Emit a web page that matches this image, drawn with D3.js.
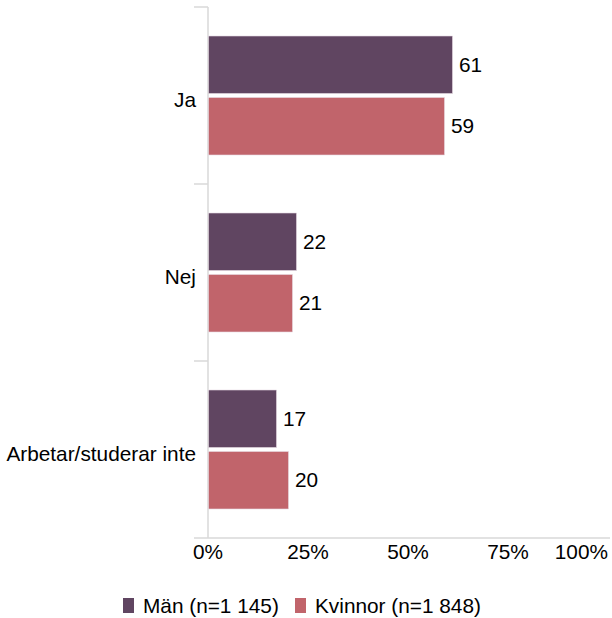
<!DOCTYPE html>
<html><head><meta charset="utf-8">
<script src="https://cdn.jsdelivr.net/npm/d3@7"></script>
<style>body{margin:0;background:#fff}text{font-family:"Liberation Sans",Arial,sans-serif;fill:#000}</style>
</head><body>
<svg id="c" width="612" height="618"></svg>
<script>
const categories = ["Ja", "Nej", "Arbetar/studerar inte"];
const seriesNames = ["Män (n=1 145)", "Kvinnor (n=1 848)"];
const manValues = [61, 22, 17];
const kvinnorValues = [59, 21, 20];
const xTicks = [0, 25, 50, 75, 100];
const xTickLabels = ["0%", "25%", "50%", "75%", "100%"];
const colors = ["#604561", "#c1646b"];

const svg = d3.select("#c");
const x = d3.scaleLinear().domain([0, 100]).range([208, 608]);
const y = d3.scaleBand().domain(categories).range([7, 538]);
const y1 = d3.scaleBand().domain(seriesNames).range([29, 148]).paddingInner(0.065);
const values = [manValues, kvinnorValues];
const fs = 20.8;

// axes lines
const axisColor = "#d9d9d9";
svg.append("line").attr("x1", 208).attr("x2", 208).attr("y1", y.range()[0]).attr("y2", y.range()[1]).attr("stroke", axisColor).attr("stroke-width", 1.5);
svg.append("line").attr("x1", 208).attr("x2", 610).attr("y1", 538).attr("y2", 538).attr("stroke", axisColor).attr("stroke-width", 1.5);
const bounds = categories.map(c => y(c)).concat([y.range()[1]]);
svg.selectAll(".tk").data(bounds).enter().append("line")
  .attr("x1", 194).attr("x2", 208).attr("y1", d => d).attr("y2", d => d)
  .attr("stroke", axisColor).attr("stroke-width", 1.5);

// bars
seriesNames.forEach((s, si) => {
  const g = svg.append("g");
  g.selectAll("rect").data(categories).enter().append("rect")
    .attr("x", x(0) + 0.5)
    .attr("y", c => y(c) + y1(s))
    .attr("width", (c, i) => x(values[si][i]) - x(0))
    .attr("height", y1.bandwidth())
    .attr("fill", colors[si])
    .attr("stroke", "#e6dbe3").attr("stroke-width", 0.6);
  g.selectAll("text").data(categories).enter().append("text")
    .attr("x", (c, i) => x(values[si][i]) + 7)
    .attr("y", c => y(c) + y1(s) + y1.bandwidth() / 2 + 7)
    .attr("font-size", fs)
    .text((c, i) => values[si][i]);
});

// category labels
svg.selectAll(".cat").data(categories).enter().append("text")
  .attr("x", 196).attr("y", c => y(c) + y.bandwidth() / 2 + 11)
  .attr("text-anchor", "end").attr("font-size", fs)
  .text(c => c);

// x tick labels
svg.selectAll(".xl").data(xTicks).enter().append("text")
  .attr("x", (d, i) => i === xTicks.length - 1 ? 608 : x(d))
  .attr("y", 559)
  .attr("text-anchor", (d, i) => i === xTicks.length - 1 ? "end" : "middle")
  .attr("font-size", fs)
  .text((d, i) => xTickLabels[i]);

// legend
const legendX = [123, 295];
seriesNames.forEach((s, i) => {
  svg.append("rect").attr("x", legendX[i]).attr("y", 598).attr("width", 11).attr("height", 15).attr("fill", colors[i]);
  svg.append("text").attr("x", legendX[i] + 20).attr("y", 613).attr("font-size", fs).text(s);
});
</script>
</body></html>
